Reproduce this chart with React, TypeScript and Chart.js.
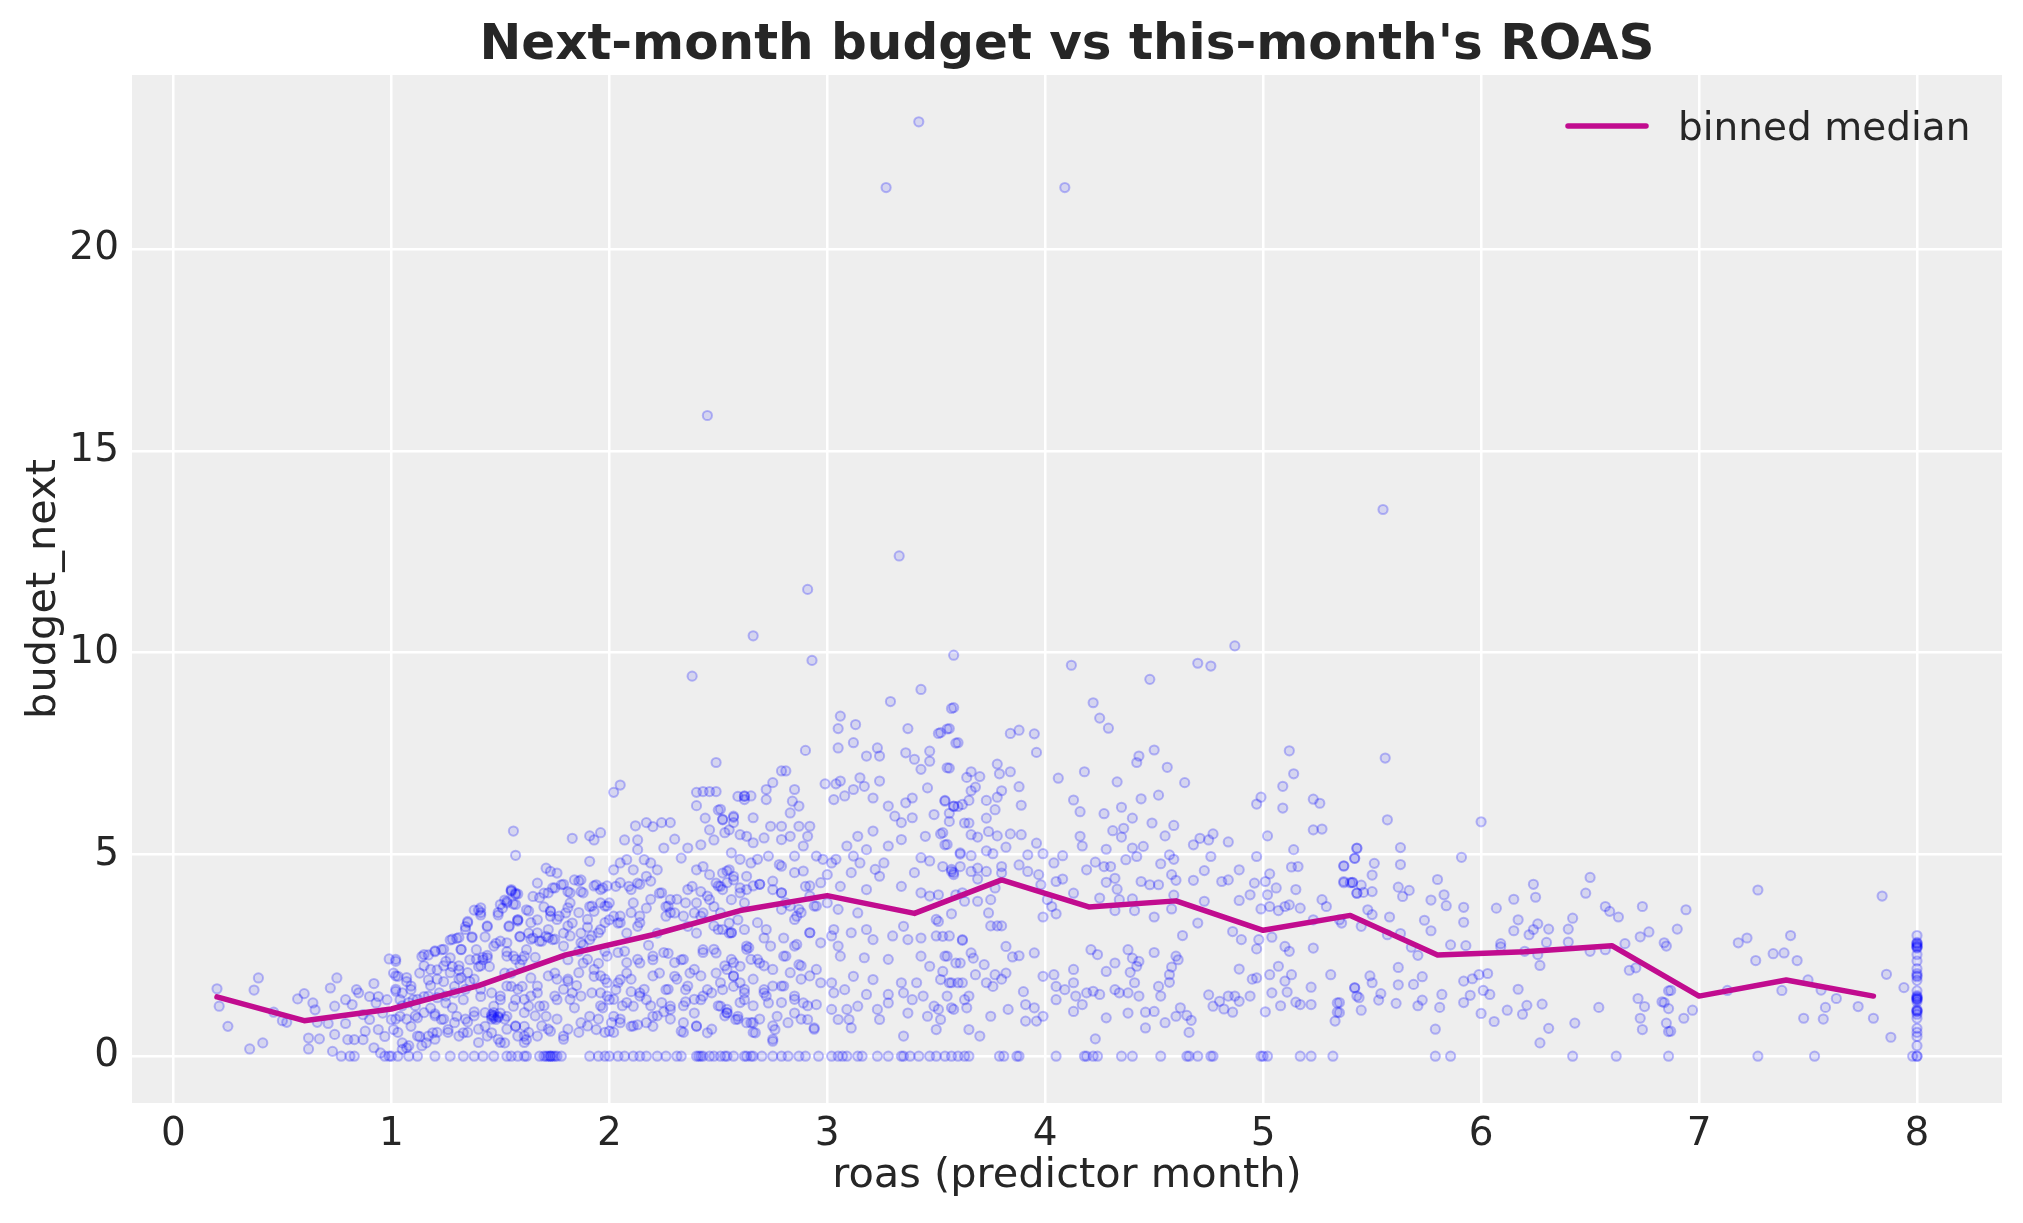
import { useEffect, useRef } from "react";
import { Chart, registerables } from "chart.js";
Chart.register(...registerables);

const FONT = "'DejaVu Sans', sans-serif";
const INK = "#262626";
const MEDIAN_COLOR = "#c10c8f";

const xTicks = [0, 1, 2, 3, 4, 5, 6, 7, 8];
const yTicks = [0, 5, 10, 15, 20];

// binned median of budget_next per roas bin
const binCenters = [0.2, 0.6, 1.0, 1.4, 1.8, 2.2, 2.6, 3.0, 3.4, 3.8, 4.2, 4.6, 5.0, 5.4, 5.8, 6.2, 6.6, 7.0, 7.4, 7.8];
const binMedians = [1.47, 0.88, 1.17, 1.75, 2.51, 3.01, 3.61, 3.98, 3.54, 4.37, 3.7, 3.85, 3.12, 3.49, 2.51, 2.59, 2.74, 1.49, 1.89, 1.49];

// [roas, budget_next], by roas band
const pointsBelow1: [number, number][] = [
  [0.2, 1.67], [0.21, 1.24], [0.25, 0.74], [0.37, 1.64], [0.39, 1.94], [0.35, 0.18], [0.41, 0.33], [0.46, 1.09],
  [0.5, 0.88], [0.52, 0.84], [0.57, 1.42], [0.6, 1.55], [0.62, 0.45], [0.62, 0.18], [0.64, 1.32], [0.65, 1.15],
  [0.66, 0.84], [0.67, 0.43], [0.71, 0.81], [0.72, 1.69], [0.75, 1.94], [0.73, 0.12], [0.74, 1.24], [0.74, 0.54],
  [0.79, 1.4], [0.79, 0.81], [0.8, 0.41], [0.82, 1.28], [0.83, 0.41], [0.84, 1.65], [0.85, 1.57], [0.87, 1.03],
  [0.87, 0.41], [0.88, 0.62], [0.9, 1.48], [0.9, 0.91], [0.92, 1.8], [0.92, 0.21], [0.93, 1.32], [0.94, 0.66],
  [0.94, 1.48], [0.95, 0.08], [0.96, 1.07], [0.97, 0.49], [0.98, 1.4], [0.99, 2.41], [1.0, 0.91],
];

const points1to16: [number, number][] = [
  [1.02, 2.35], [1.01, 2.06], [1.03, 1.98], [1.02, 1.61], [1.01, 0.66], [1.04, 1.4], [1.04, 0.99], [1.05, 0.33],
  [1.07, 1.85], [1.07, 0.21], [1.09, 1.65], [1.09, 0.74], [1.1, 1.4], [1.12, 0.95], [1.13, 2.06], [1.13, 0.49],
  [1.14, 2.47], [1.15, 1.48], [1.16, 0.33], [1.17, 2.51], [1.17, 1.89], [1.18, 1.19], [1.19, 0.58], [1.2, 2.59],
  [1.21, 2.14], [1.22, 1.57], [1.23, 0.91], [1.23, 2.64], [1.24, 1.85], [1.25, 1.32], [1.26, 0.66], [1.27, 2.88],
  [1.28, 2.22], [1.29, 1.73], [1.3, 2.92], [1.3, 0.99], [1.31, 2.14], [1.32, 2.64], [1.33, 1.4], [1.33, 0.58],
  [1.34, 3.21], [1.35, 3.34], [1.36, 2.39], [1.36, 1.85], [1.37, 2.96], [1.38, 3.62], [1.39, 2.64], [1.4, 2.22],
  [1.4, 3.62], [1.41, 3.5], [1.41, 1.48], [1.42, 2.39], [1.43, 0.74], [1.43, 2.96], [1.44, 3.21], [1.45, 2.22],
  [1.46, 0.99], [1.46, 0.58], [1.47, 1.24], [1.48, 2.8], [1.49, 3.5], [1.5, 1.07], [1.5, 1.4], [1.51, 3.67],
  [1.52, 3.87], [1.53, 2.59], [1.54, 3.21], [1.55, 2.06], [1.56, 1.24], [1.56, 5.58], [1.57, 4.98], [1.55, 4.1],
  [1.58, 4.02], [1.56, 3.77], [1.58, 3.38], [1.59, 2.96], [1.6, 2.39], [1.6, 1.73], [1.61, 0.74], [1.62, 0.41],
  [1.63, 3.05], [1.63, 1.24], [1.47, 0.95], [1.48, 0.91], [1.46, 1.03], [1.49, 0.99], [1.42, 2.45], [1.44, 2.5],
  [1.38, 1.1], [1.35, 0.85], [1.28, 1.2], [1.2, 1.05], [1.18, 1.75], [1.11, 1.25], [1.25, 2.35], [1.32, 1.95],
];

// the crowded core between roas 1 and 2
const dense1to2: [number, number][] = [
  [1.02, 2.4], [1.02, 1.99], [1.02, 1.66], [1.07, 1.95], [1.09, 1.74], [1.05, 1.57], [1.15, 2.52], [1.2, 2.61],
  [1.24, 2.65], [1.28, 2.9], [1.31, 2.94], [1.32, 2.65], [1.27, 2.44], [1.31, 2.24], [1.35, 3.31], [1.34, 3.14],
  [1.37, 2.94], [1.41, 3.68], [1.41, 3.56], [1.44, 3.23], [1.49, 3.56], [1.5, 3.76], [1.53, 3.84], [1.55, 4.09],
  [1.57, 4.01], [1.57, 3.76], [1.58, 3.35], [1.54, 3.23], [1.63, 3.6], [1.64, 3.31], [1.67, 3.06], [1.68, 3.93],
  [1.72, 4.05], [1.75, 4.17], [1.79, 4.26], [1.86, 4.34], [1.88, 4.05], [1.92, 3.72], [1.93, 4.22], [1.96, 4.13],
  [1.99, 3.72], [1.73, 3.6], [1.76, 3.39], [1.81, 3.68], [1.86, 3.56], [1.15, 2.24], [1.18, 2.15], [1.21, 1.91],
  [1.24, 2.24], [1.27, 2.07], [1.31, 1.91], [1.35, 2.07], [1.39, 2.4], [1.41, 2.24], [1.44, 2.44], [1.47, 2.73],
  [1.5, 2.85], [1.53, 2.48], [1.57, 2.4], [1.61, 2.48], [1.64, 2.9], [1.69, 2.85], [1.72, 2.94], [1.75, 2.9],
  [1.79, 2.73], [1.82, 2.98], [1.87, 2.81], [1.92, 2.98], [1.95, 3.06], [1.98, 3.31], [1.9, 2.4], [1.93, 2.15],
  [1.96, 1.99], [1.99, 1.82], [1.86, 2.07], [1.81, 1.91], [1.76, 1.91], [1.72, 1.99], [1.67, 1.74], [1.64, 1.49],
  [1.61, 1.41], [1.58, 1.66], [1.53, 1.74], [1.5, 1.49], [1.46, 1.57], [1.41, 1.66], [1.38, 1.91], [1.34, 1.66],
  [1.29, 1.57], [1.25, 1.49], [1.21, 1.45], [1.17, 1.49], [1.12, 1.41], [1.08, 1.33], [1.05, 1.25], [1.02, 0.92],
  [1.07, 0.92], [1.11, 1.0], [1.15, 1.08], [1.2, 1.0], [1.24, 0.92], [1.29, 0.83], [1.34, 0.92], [1.38, 1.0],
  [1.43, 1.08], [1.47, 1.0], [1.52, 0.92], [1.57, 0.75], [1.61, 1.08], [1.66, 1.0], [1.7, 1.25], [1.75, 1.49],
  [1.79, 1.66], [1.82, 1.41], [1.87, 1.49], [1.92, 1.57], [1.96, 1.25], [1.99, 1.49], [1.95, 0.92], [1.9, 0.75],
  [1.86, 0.59], [1.81, 0.67], [1.76, 0.92], [1.72, 0.67], [1.67, 0.5], [1.63, 0.59], [1.58, 0.5], [1.53, 0.67],
  [1.49, 0.42], [1.44, 0.5], [1.4, 0.67], [1.35, 0.59], [1.31, 0.5], [1.26, 0.59], [1.21, 0.59], [1.17, 0.5],
  [1.12, 0.5], [1.08, 0.26], [1.03, 0.59], [1.05, 0.17], [1.14, 0.26], [1.2, 0.42], [1.4, 0.34], [1.46, 0.92],
  [1.47, 1.08], [1.49, 0.96], [1.5, 0.34], [1.61, 0.34], [1.69, 0.75], [1.79, 0.42], [1.98, 0.59], [1.73, 3.47],
  [1.81, 3.23], [1.9, 3.39], [1.82, 4.05], [1.72, 3.14],
];

const points16to26: [number, number][] = [
  [1.83, 5.4], [1.91, 5.46], [1.93, 5.36], [1.96, 5.54], [1.91, 4.83], [2.02, 6.54], [2.05, 6.72], [2.07, 5.36],
  [2.12, 5.71], [2.17, 5.79], [2.2, 5.69], [2.24, 5.79], [2.28, 5.79], [2.13, 5.36], [2.13, 5.12], [2.3, 5.38],
  [2.25, 5.16], [2.33, 4.91], [2.36, 5.16], [2.4, 6.54], [2.43, 6.56], [2.46, 6.56], [2.49, 6.56], [2.49, 7.28],
  [2.4, 6.21], [2.5, 6.1], [2.44, 5.9], [2.46, 5.61], [2.52, 5.86], [2.57, 5.92], [2.59, 6.44], [2.62, 6.44],
  [2.55, 5.61], [2.48, 5.36], [2.6, 5.49], [2.42, 5.24],
  [1.71, 4.66], [1.73, 4.58], [1.76, 4.54], [1.67, 4.29], [1.7, 4.04], [1.74, 4.17], [1.78, 4.25], [1.81, 4.08],
  [1.84, 4.37], [1.87, 4.37], [1.87, 4.08], [1.94, 4.25], [1.97, 4.17], [1.65, 3.96], [1.53, 3.8], [1.57, 4.04],
  [1.55, 4.13], [1.62, 3.63], [1.67, 3.38], [1.73, 3.59], [1.77, 3.47], [1.82, 3.8], [1.83, 3.3], [1.87, 3.05],
  [1.91, 3.71], [1.93, 3.59], [1.96, 3.8], [2.0, 3.8], [1.58, 3.38], [1.59, 2.97], [1.65, 2.93], [1.68, 2.85],
  [1.71, 2.97], [1.74, 2.89], [1.79, 3.05], [1.53, 2.81], [1.56, 2.48], [1.62, 2.64], [1.88, 2.76], [1.91, 2.89],
  [1.96, 3.14], [2.0, 3.38], [2.02, 4.62], [2.05, 4.79], [2.08, 4.87], [2.03, 4.21], [2.09, 4.21], [2.13, 4.29],
  [2.17, 4.46], [2.19, 4.79], [2.22, 4.62], [2.11, 4.62], [2.16, 4.87], [2.23, 4.04], [2.26, 3.71], [2.28, 3.88],
  [2.11, 3.8], [2.14, 3.47], [2.05, 3.47], [2.04, 3.3], [2.08, 3.05], [2.13, 3.22], [2.17, 3.67], [2.22, 3.05],
  [2.26, 3.47], [2.3, 3.55], [2.35, 3.8], [2.38, 4.21], [2.4, 4.62], [2.43, 4.7], [2.46, 4.5], [2.49, 4.29],
  [2.51, 4.21], [2.52, 4.54], [2.55, 4.62], [2.57, 4.37], [2.6, 4.17], [2.63, 4.46], [2.42, 4.08], [2.46, 3.88],
  [2.48, 3.71], [2.39, 3.55], [2.43, 3.55], [2.51, 3.55], [2.55, 3.3], [2.59, 3.38], [2.4, 3.05], [2.36, 3.22],
  [2.5, 3.14], [2.55, 3.05], [2.43, 2.64], [2.49, 2.56],
  [1.52, 2.06], [1.55, 1.73], [1.57, 1.4], [1.53, 0.99], [1.57, 0.74], [1.61, 0.5], [1.52, 0.33], [1.59, 2.27],
  [1.64, 1.94], [1.67, 1.57], [1.68, 1.24], [1.71, 0.99], [1.73, 0.62], [1.79, 0.5], [1.75, 2.06], [1.81, 1.86],
  [1.83, 1.57], [1.84, 1.2], [1.87, 0.83], [1.91, 0.99], [1.94, 0.66], [1.96, 1.57], [1.93, 1.98], [1.88, 2.31],
  [1.81, 2.39], [1.97, 1.2], [2.0, 1.4], [2.03, 1.65], [2.05, 1.9], [2.02, 0.99], [2.0, 0.62], [2.05, 0.83],
  [2.1, 0.74], [2.13, 0.78], [2.11, 1.24], [2.14, 1.57], [2.17, 1.4], [2.2, 0.99], [2.2, 0.74], [2.08, 2.06],
  [2.14, 2.31], [2.2, 2.39], [2.23, 2.06], [2.26, 1.65], [2.28, 1.24], [2.3, 1.98], [2.33, 2.39], [2.35, 1.65],
  [2.37, 2.06], [2.33, 0.62], [2.39, 1.07], [2.4, 0.74], [2.42, 1.4], [2.45, 1.65], [2.45, 0.58], [2.49, 2.06],
  [2.51, 1.24], [2.54, 1.07], [2.57, 1.73], [2.59, 0.99], [2.6, 2.23], [2.62, 1.57], [2.63, 0.83],
  [1.7, 3.7], [1.8, 3.55], [1.9, 3.2], [1.98, 2.6], [2.07, 2.6], [2.18, 2.75], [2.27, 2.55], [1.76, 1.4],
  [1.85, 1.75], [1.95, 2.3], [2.1, 1.6], [2.25, 1.1], [2.35, 1.35], [1.66, 2.45], [1.86, 2.6], [2.06, 1.25],
];

// the crowded core between roas 2 and 3
const dense2to3: [number, number][] = [
  [1.99, 4.22], [2.05, 4.3], [2.1, 4.13], [2.14, 4.26], [2.19, 4.34], [2.24, 4.05], [2.27, 3.72], [2.28, 3.56],
  [2.31, 3.89], [2.36, 4.13], [2.4, 3.8], [2.45, 3.97], [2.5, 4.22], [2.54, 4.3], [2.6, 4.05], [2.66, 4.22],
  [2.69, 4.26], [2.75, 4.13], [2.79, 4.05], [2.83, 3.72], [2.88, 3.56], [2.92, 4.22], [2.95, 3.72], [1.98, 3.72],
  [2.02, 3.47], [2.05, 3.31], [2.1, 3.56], [2.14, 3.31], [2.19, 3.89], [2.34, 3.47], [2.42, 3.47], [2.48, 3.23],
  [2.56, 3.06], [2.62, 3.14], [2.68, 3.31], [2.72, 3.14], [2.79, 3.64], [2.85, 3.39], [2.92, 3.06], [1.99, 2.48],
  [2.04, 2.57], [2.08, 2.32], [2.13, 2.4], [2.2, 2.48], [2.25, 2.57], [2.3, 2.32], [2.34, 2.4], [2.39, 2.15],
  [2.43, 2.57], [2.48, 2.65], [2.53, 2.24], [2.57, 2.32], [2.63, 2.65], [2.68, 2.4], [2.71, 2.24], [2.75, 2.15],
  [2.8, 2.48], [2.85, 2.73], [2.88, 2.24], [2.92, 1.99], [1.98, 1.91], [2.04, 1.82], [2.1, 1.91], [2.16, 1.66],
  [2.2, 1.99], [2.27, 1.66], [2.31, 1.91], [2.36, 1.74], [2.42, 1.99], [2.47, 1.57], [2.51, 1.82], [2.57, 1.99],
  [2.62, 1.66], [2.66, 1.91], [2.71, 1.57], [2.75, 1.74], [2.8, 1.74], [2.88, 1.91], [2.02, 1.41], [2.08, 1.33],
  [2.14, 1.49], [2.19, 1.25], [2.24, 1.33], [2.28, 1.16], [2.34, 1.25], [2.39, 1.41], [2.43, 1.49], [2.5, 1.25],
  [2.54, 1.08], [2.6, 1.33], [2.66, 1.25], [2.72, 1.49], [2.79, 1.33], [2.85, 1.41], [2.91, 1.25], [2.01, 0.83],
  [2.05, 0.92], [2.11, 0.75], [2.17, 0.83], [2.22, 1.0], [2.28, 0.92], [2.34, 0.83], [2.4, 0.75], [2.47, 0.67],
  [2.53, 1.0], [2.59, 0.92], [2.65, 0.83], [2.69, 0.92], [2.75, 0.75], [2.82, 0.83], [2.88, 0.92], [2.94, 0.67],
  [2.75, 0.42], [2.66, 0.59], [2.02, 0.59], [2.34, 0.59],
];

const points25to36: [number, number][] = [
  [2.9, 7.58], [2.79, 7.07], [2.81, 7.07], [2.75, 6.78], [2.72, 6.61], [2.72, 6.36], [2.62, 6.45], [2.65, 6.45],
  [2.62, 6.36], [2.85, 6.61], [2.84, 6.32], [2.87, 6.2], [2.83, 6.03], [2.99, 6.75], [3.04, 6.75], [3.06, 6.82],
  [3.05, 7.64], [3.05, 8.12], [3.06, 8.43], [3.13, 8.22], [3.12, 7.77], [3.18, 7.44], [3.23, 7.64], [3.24, 7.44],
  [3.15, 6.9], [3.17, 6.69], [3.21, 6.4], [3.24, 6.82], [3.29, 8.79], [3.37, 8.12], [3.36, 7.52], [3.4, 7.36],
  [3.43, 7.11], [3.43, 9.09], [3.47, 7.56], [3.47, 7.31], [3.46, 6.65], [3.52, 8.02], [3.56, 8.12], [3.58, 8.64],
  [3.6, 7.77], [3.55, 7.15], [3.54, 6.32], [3.58, 6.2], [3.62, 6.24], [3.08, 6.45], [3.03, 6.36], [3.12, 6.61],
  [2.51, 6.12], [2.52, 5.87], [2.57, 5.95], [2.53, 5.54], [2.57, 5.79], [2.63, 5.45], [2.66, 5.91], [2.66, 5.29],
  [2.74, 5.7], [2.71, 5.41], [2.79, 5.7], [2.79, 5.37], [2.83, 5.45], [2.87, 5.7], [2.91, 5.45], [2.92, 5.7],
  [2.89, 5.21], [2.56, 5.04], [2.6, 4.88], [2.65, 4.79], [2.68, 4.88], [2.73, 4.96], [2.78, 4.75], [2.85, 4.96],
  [2.95, 4.96], [2.98, 4.88], [3.02, 4.79], [3.04, 4.88], [2.54, 4.59], [2.57, 4.46], [2.52, 4.13], [2.56, 3.88],
  [2.63, 4.13], [2.62, 3.8], [2.69, 4.26], [2.75, 4.34], [2.79, 4.71], [2.79, 4.05], [2.81, 3.8], [2.85, 4.55],
  [2.89, 4.59], [2.9, 4.21], [2.92, 3.97], [2.94, 3.72], [2.86, 3.47], [2.87, 3.64], [2.97, 4.3], [3.0, 4.5],
  [3.0, 3.8], [3.05, 3.64], [3.06, 4.21], [3.09, 5.21], [3.12, 4.96], [3.14, 5.45], [3.11, 4.55], [3.15, 4.79],
  [3.18, 5.12], [3.18, 4.13], [3.14, 3.55], [3.21, 5.58], [3.22, 4.63], [3.24, 4.46], [3.26, 4.79], [3.28, 6.2],
  [3.28, 5.21], [3.31, 5.95], [3.34, 5.79], [3.34, 4.21], [3.34, 5.37], [3.36, 6.28], [3.39, 5.91], [3.4, 4.55],
  [3.39, 6.4], [3.43, 4.92], [3.43, 4.05], [3.47, 4.84], [3.47, 3.97], [3.49, 5.99], [3.53, 5.54], [3.55, 5.25],
  [3.57, 4.63], [3.58, 4.55], [3.61, 5.04], [3.62, 4.05], [3.5, 3.39], [3.45, 5.45],
  [2.52, 3.14], [2.56, 3.06], [2.63, 2.73], [2.64, 2.69], [2.71, 2.93], [2.74, 2.73], [2.8, 2.93], [2.86, 2.77],
  [2.92, 3.06], [2.97, 2.81], [3.02, 2.98], [3.05, 2.73], [3.03, 3.14], [3.11, 3.06], [3.18, 3.14], [3.21, 2.89],
  [3.3, 2.98], [3.35, 3.22], [3.37, 2.89], [3.43, 2.93], [3.5, 2.98], [3.56, 2.98], [3.62, 2.89], [2.56, 2.4],
  [2.54, 2.15], [2.57, 1.98], [2.52, 1.65], [2.54, 1.16], [2.58, 0.91], [2.6, 1.82], [2.62, 1.4], [2.66, 0.83],
  [2.67, 0.58], [2.65, 2.4], [2.69, 2.31], [2.71, 1.65], [2.73, 1.32], [2.76, 0.66], [2.75, 0.37], [2.77, 0.99],
  [2.79, 1.74], [2.81, 2.48], [2.83, 2.07], [2.85, 1.49], [2.85, 1.07], [2.87, 2.27], [2.89, 1.32], [2.91, 0.91],
  [2.94, 0.7], [2.95, 1.28], [2.95, 2.15], [2.97, 1.82], [3.02, 1.82], [3.03, 1.57], [3.02, 1.16], [3.05, 0.91],
  [3.06, 2.48], [3.08, 1.65], [3.09, 1.16], [3.1, 0.91], [3.11, 0.7], [3.12, 1.98], [3.14, 1.24], [3.17, 2.44],
  [3.18, 1.53], [3.21, 1.9], [3.23, 1.16], [3.24, 0.91], [3.28, 2.4], [3.28, 1.53], [3.28, 1.32], [3.34, 1.82],
  [3.35, 1.57], [3.35, 0.5], [3.37, 1.07], [3.39, 1.4], [3.41, 1.82], [3.43, 2.48], [3.44, 1.49], [3.46, 0.99],
  [3.47, 2.23], [3.49, 1.24], [3.5, 0.66], [3.52, 1.9], [3.55, 2.48], [3.57, 1.82], [3.58, 1.16], [3.61, 2.31],
  [3.62, 1.82], [3.63, 1.4],
];

const points35to54: [number, number][] = [
  [3.58, 9.94], [3.57, 8.62], [3.55, 8.11], [3.51, 8.0], [3.59, 7.76], [3.56, 7.14], [4.12, 9.69], [4.22, 8.76],
  [4.25, 8.38], [4.29, 8.13], [4.48, 9.34], [4.7, 9.74], [4.76, 9.67], [4.87, 10.17], [3.84, 8.0], [3.88, 8.08],
  [3.95, 7.99], [3.96, 7.53], [3.78, 7.24], [3.66, 7.05], [3.7, 6.93], [3.64, 6.91], [3.79, 7.0], [3.84, 7.05],
  [3.88, 6.68], [3.68, 6.67], [3.66, 6.58], [3.8, 6.58], [3.78, 6.42], [3.73, 6.34], [3.54, 6.34], [3.58, 6.19],
  [3.6, 6.19], [3.65, 6.34], [3.89, 6.22], [3.77, 6.11], [3.56, 6.02], [4.06, 6.89], [4.18, 7.05], [4.13, 6.35],
  [4.16, 6.06], [4.33, 6.8], [4.42, 7.28], [4.43, 7.44], [4.5, 7.59], [4.56, 7.16], [4.64, 6.78], [4.52, 6.47],
  [4.44, 6.38], [4.35, 6.17], [4.27, 6.01], [4.4, 5.9], [5.12, 7.57], [5.14, 7.0], [5.09, 6.69], [4.99, 6.42],
  [4.97, 6.25], [5.09, 6.15], [5.23, 6.37], [5.26, 6.27], [5.23, 5.61], [5.27, 5.63], [5.02, 5.46],
  [3.73, 5.9], [3.65, 5.78], [3.63, 5.78], [3.56, 5.82], [3.52, 5.51], [3.54, 5.24], [3.66, 5.49], [3.69, 5.43],
  [3.74, 5.57], [3.78, 5.46], [3.84, 5.51], [3.89, 5.49], [3.73, 5.09], [3.76, 5.02], [3.82, 5.18], [3.96, 5.28],
  [3.92, 4.99], [3.99, 5.02], [3.61, 5.01], [3.61, 4.7], [3.66, 4.97], [3.66, 4.58], [3.57, 4.58], [3.53, 4.7],
  [3.58, 4.5], [3.69, 4.66], [3.8, 4.7], [3.8, 4.54], [3.73, 4.58], [3.88, 4.74], [3.92, 4.58], [3.97, 4.5],
  [3.98, 4.25], [3.69, 4.39], [3.77, 4.17], [3.51, 4.0], [3.59, 4.0], [3.63, 3.84], [3.69, 3.84], [3.75, 3.88],
  [3.74, 3.55], [3.57, 3.53], [3.51, 3.34], [3.75, 3.23], [3.78, 3.23], [3.8, 3.23], [3.53, 2.97], [4.04, 4.79],
  [4.08, 4.97], [4.05, 4.33], [4.08, 4.39], [4.01, 3.88], [4.03, 3.71], [4.05, 3.53], [3.99, 3.45], [4.13, 4.04],
  [4.16, 5.45], [4.17, 5.21], [4.19, 4.62], [4.23, 4.81], [4.27, 4.7], [4.3, 4.7], [4.28, 4.31], [4.32, 4.41],
  [4.33, 4.14], [4.25, 3.92], [4.34, 3.88], [4.32, 3.61], [4.28, 5.13], [4.31, 5.59], [4.35, 5.43], [4.36, 5.65],
  [4.37, 4.87], [4.4, 5.16], [4.45, 5.2], [4.42, 4.95], [4.44, 4.33], [4.48, 4.25], [4.52, 4.25], [4.4, 3.9],
  [4.41, 3.61], [4.5, 3.45], [4.49, 5.78], [4.53, 4.77], [4.55, 5.46], [4.57, 4.99], [4.59, 5.72], [4.59, 4.88],
  [4.58, 4.5], [4.6, 4.36], [4.59, 3.99], [4.58, 3.65], [4.68, 5.24], [4.71, 5.4], [4.75, 5.36], [4.77, 5.51],
  [4.76, 4.95], [4.73, 4.6], [4.68, 4.36], [4.73, 3.84], [4.81, 4.33], [4.84, 4.37], [4.84, 5.31], [4.89, 4.62],
  [4.89, 3.86], [4.94, 4.0], [4.97, 4.95], [4.96, 4.29], [5.01, 4.33], [5.03, 4.52], [5.06, 4.17], [5.02, 4.0],
  [4.99, 3.65], [5.03, 3.71], [5.07, 3.61], [5.1, 3.71], [5.12, 3.75], [5.17, 3.67], [5.14, 5.12], [5.13, 4.69],
  [5.16, 4.7], [5.15, 4.13], [5.27, 3.88], [5.29, 3.71], [5.37, 4.72], [5.37, 4.33], [5.41, 4.31], [5.42, 4.91],
  [5.43, 5.16], [5.43, 4.04],
  [3.54, 2.48], [3.53, 2.1], [3.56, 1.82], [3.51, 1.16], [3.52, 0.91], [3.55, 1.49], [3.59, 2.31], [3.57, 1.2],
  [3.6, 1.82], [3.62, 2.87], [3.65, 1.49], [3.64, 1.2], [3.65, 0.66], [3.66, 2.56], [3.67, 2.43], [3.68, 2.02],
  [3.7, 0.5], [3.72, 2.27], [3.73, 1.82], [3.75, 0.99], [3.76, 1.73], [3.77, 2.02], [3.8, 1.91], [3.82, 2.72],
  [3.82, 2.06], [3.83, 1.16], [3.85, 2.46], [3.88, 2.49], [3.9, 1.6], [3.91, 1.28], [3.91, 0.87], [3.95, 2.56],
  [3.95, 1.2], [3.96, 0.87], [3.99, 1.98], [3.99, 0.99], [4.04, 2.02], [4.05, 1.73], [4.05, 1.4], [4.09, 1.65],
  [4.13, 1.82], [4.13, 1.11], [4.13, 2.15], [4.14, 1.49], [4.17, 1.28], [4.19, 1.57], [4.21, 2.64], [4.23, 0.43],
  [4.24, 2.52], [4.22, 1.61], [4.25, 1.53], [4.28, 0.95], [4.28, 2.1], [4.32, 2.31], [4.32, 1.65], [4.34, 1.57],
  [4.38, 2.64], [4.38, 1.57], [4.38, 1.07], [4.4, 2.43], [4.39, 2.08], [4.42, 2.23], [4.43, 2.35], [4.41, 1.82],
  [4.43, 1.49], [4.46, 0.7], [4.46, 1.09], [4.5, 2.57], [4.5, 1.11], [4.52, 1.73], [4.53, 1.49], [4.55, 0.83],
  [4.57, 1.83], [4.58, 2.21], [4.57, 2.02], [4.6, 0.99], [4.6, 2.48], [4.61, 2.39], [4.62, 1.2], [4.63, 2.99],
  [4.66, 0.59], [4.65, 1.01], [4.67, 0.89], [4.7, 3.3], [4.75, 1.52], [4.77, 1.24], [4.8, 1.36], [4.82, 1.17],
  [4.84, 1.49], [4.86, 1.09], [4.87, 1.49], [4.89, 1.36], [4.86, 3.09], [4.9, 2.89], [4.89, 2.16], [4.94, 1.49],
  [4.95, 1.91], [4.97, 1.94], [4.98, 2.89], [4.97, 2.66], [5.04, 2.95], [5.03, 2.02], [5.04, 1.57], [5.01, 1.1],
  [5.07, 2.23], [5.08, 1.25], [5.1, 2.72], [5.12, 2.6], [5.1, 1.86], [5.11, 1.59], [5.13, 2.02], [5.15, 1.34],
  [5.17, 1.28], [5.22, 1.28], [5.22, 1.71], [5.23, 2.68], [5.23, 3.38], [5.31, 2.02], [5.33, 0.87], [5.34, 1.09],
  [5.34, 1.32], [5.36, 3.3], [5.42, 1.69], [5.43, 1.49],
];

const points54to70: [number, number][] = [
  [5.56, 7.39], [5.57, 5.86], [6.0, 5.81], [5.43, 5.15], [5.42, 4.9], [5.37, 4.71], [5.51, 4.78], [5.63, 5.17],
  [5.63, 4.75], [5.5, 4.49], [5.37, 4.3], [5.4, 4.3], [5.41, 4.3], [5.45, 4.24], [5.43, 4.04], [5.46, 4.06],
  [5.5, 4.08], [5.62, 4.19], [5.64, 3.96], [5.67, 4.11], [5.8, 4.38], [5.77, 3.87], [5.83, 4.0], [5.84, 3.73],
  [5.92, 3.69], [5.92, 3.32], [5.91, 4.93], [5.48, 3.63], [5.5, 3.51], [5.58, 3.45], [5.35, 3.38], [5.45, 3.22],
  [5.74, 3.37], [5.77, 3.11], [5.63, 3.04], [5.57, 3.01], [5.68, 2.7], [5.71, 2.5], [5.86, 2.76], [5.93, 2.74],
  [5.62, 2.2], [5.49, 1.99], [5.5, 1.82], [5.42, 1.7], [5.44, 1.45], [5.45, 1.14], [5.35, 1.33], [5.35, 1.08],
  [5.53, 1.39], [5.54, 1.55], [5.61, 1.31], [5.62, 1.77], [5.69, 1.78], [5.73, 1.97], [5.73, 1.39], [5.71, 1.25],
  [5.81, 1.21], [5.82, 1.53], [5.79, 0.67], [5.92, 1.86], [5.96, 1.92], [5.92, 1.33], [5.95, 1.51], [5.99, 2.02],
  [6.03, 2.05], [6.01, 1.63], [6.04, 1.53], [6.0, 1.06], [6.06, 0.86], [6.07, 3.67], [6.09, 2.79], [6.09, 2.71],
  [6.15, 3.89], [6.17, 3.38], [6.15, 3.11], [6.22, 3.01], [6.24, 3.14], [6.26, 3.28], [6.31, 3.15], [6.24, 4.26],
  [6.25, 3.94], [6.3, 2.82], [6.2, 2.6], [6.26, 2.52], [6.27, 2.25], [6.17, 1.66], [6.21, 1.26], [6.19, 1.04],
  [6.28, 1.29], [6.12, 1.14], [6.31, 0.69], [6.27, 0.33], [6.4, 3.15], [6.42, 3.42], [6.4, 2.83], [6.5, 2.6],
  [6.5, 4.43], [6.48, 4.04], [6.43, 0.82], [6.54, 1.21], [6.57, 3.71], [6.59, 3.59], [6.63, 3.45], [6.66, 2.79],
  [6.57, 2.64], [6.68, 2.13], [6.71, 2.19], [6.74, 3.71], [6.73, 2.96], [6.77, 3.08], [6.84, 2.81], [6.85, 2.73],
  [6.72, 1.43], [6.75, 1.23], [6.73, 0.94], [6.74, 0.66], [6.84, 1.33], [6.86, 1.18], [6.85, 0.82], [6.86, 0.61],
  [6.86, 1.62], [6.9, 3.15], [6.94, 3.63], [6.87, 1.63], [6.83, 1.35], [6.93, 0.94], [6.97, 1.14], [6.87, 0.62],
];

const points70to80: [number, number][] = [
  [7.13, 1.63], [7.18, 2.81], [7.22, 2.93], [7.27, 4.12], [7.26, 2.37], [7.34, 2.54], [7.39, 2.56], [7.42, 2.99],
  [7.45, 2.37], [7.38, 1.63], [7.5, 1.89], [7.56, 1.64], [7.58, 1.21], [7.63, 1.43], [7.48, 0.94], [7.57, 0.92],
  [7.73, 1.23], [7.8, 0.94], [7.84, 3.97], [7.86, 2.03], [7.88, 0.47], [7.94, 1.7],
];

const outlierPoints: [number, number][] = [
  [3.42, 23.16], [3.27, 21.53], [4.09, 21.53], [2.45, 15.88], [5.55, 13.55], [3.33, 12.4], [2.91, 11.57],
  [2.66, 10.42], [2.93, 9.81], [2.38, 9.42],
];

// roas of rows whose next-month budget is 0
const zeroBudgetRoas = [
  0.77, 0.81, 0.83, 0.97, 0.99, 1.03, 1.08, 1.2, 1.27, 1.33, 1.42, 1.53, 1.55, 1.58, 1.61, 1.62, 1.68, 1.7, 1.72,
  1.73, 1.73, 1.74, 1.75, 1.78, 1.91, 1.95, 1.98, 2.04, 2.07, 2.14, 2.17, 2.22, 2.26, 2.33, 2.4, 2.41, 2.42, 2.46,
  2.51, 2.53, 2.54, 2.57, 2.62, 2.63, 2.65, 2.66, 2.7, 2.75, 2.79, 2.82, 2.9, 3.02, 3.05, 3.07, 3.09, 3.14, 3.16,
  3.23, 3.28, 3.34, 3.35, 3.38, 3.42, 3.47, 3.5, 3.54, 3.57, 3.6, 3.63, 3.65, 3.79, 3.81, 3.87, 3.88, 4.05, 4.18,
  4.19, 4.22, 4.24, 4.35, 4.4, 4.53, 4.65, 4.66, 4.7, 4.76, 4.77, 4.99, 5.0, 5.02, 5.17, 5.22, 5.32, 5.79, 5.86,
  6.42, 6.62, 6.86, 7.27, 7.53, 7.98, 1.0, 1.12, 1.38, 1.47, 1.71, 1.76, 2.0, 2.11, 2.31, 2.43, 2.48, 2.87, 2.96,
];

// budget_next of rows whose roas is capped at 8
const cappedRoasBudgets = [
  2.99, 2.82, 2.78, 2.74, 2.72, 2.68, 2.52, 2.36, 2.17, 2.05, 2.0, 1.97, 1.88, 1.62, 1.47, 1.45, 1.41, 1.4, 1.35,
  1.16, 1.12, 1.1, 1.04, 0.94, 0.69, 0.59, 0.49, 0.26, 0, 0, 2.8, 2.7, 1.5, 1.43, 1.13,
];

const scatterData = [
  ...pointsBelow1,
  ...points1to16,
  ...dense1to2,
  ...points16to26,
  ...dense2to3,
  ...points25to36,
  ...points35to54,
  ...points54to70,
  ...points70to80,
  ...outlierPoints,
  ...zeroBudgetRoas.map((r) => [r, 0] as [number, number]),
  ...cappedRoasBudgets.map((b) => [8, b] as [number, number]),
].map(([x, y]) => ({ x, y }));

const medianData = binCenters.map((x, i) => ({ x, y: binMedians[i] }));

const decorPlugin = {
  id: "decor",
  beforeDraw(chart: Chart) {
    const { ctx, chartArea: a } = chart;
    ctx.save();
    ctx.fillStyle = "#eeeeee";
    ctx.fillRect(a.left, a.top, a.right - a.left, a.bottom - a.top);
    ctx.restore();
  },
  afterDraw(chart: Chart) {
    const { ctx, chartArea: a } = chart;
    ctx.save();
    ctx.fillStyle = INK;
    // title
    ctx.font = `bold 50px ${FONT}`;
    ctx.textAlign = "center";
    ctx.textBaseline = "alphabetic";
    ctx.fillText("Next-month budget vs this-month's ROAS", (a.left + a.right) / 2, 59);
    // axis titles
    ctx.font = `41.5px ${FONT}`;
    ctx.textBaseline = "middle";
    ctx.fillText("roas (predictor month)", (a.left + a.right) / 2, 1176);
    ctx.textBaseline = "alphabetic";
    ctx.translate(55, (a.top + a.bottom) / 2);
    ctx.rotate(-Math.PI / 2);
    ctx.fillText("budget_next", 0, 0);
    ctx.setTransform(1, 0, 0, 1, 0, 0);
    // legend
    ctx.strokeStyle = MEDIAN_COLOR;
    ctx.lineWidth = 5.5;
    ctx.lineCap = "round";
    ctx.beginPath();
    ctx.moveTo(1568, 126);
    ctx.lineTo(1646, 126);
    ctx.stroke();
    ctx.font = `39px ${FONT}`;
    ctx.textAlign = "left";
    ctx.fillText("binned median", 1678, 140);
    ctx.restore();
  },
};

export default function App() {
  const canvasRef = useRef<HTMLCanvasElement>(null);

  useEffect(() => {
    if (!canvasRef.current) return;
    const ctx = canvasRef.current.getContext("2d");
    if (!ctx) return;

    const tickFont = { family: FONT, size: 39 };

    const chart = new Chart(ctx, {
      type: "scatter",
      data: {
        datasets: [
          {
            type: "line",
            label: "binned median",
            data: medianData,
            borderColor: MEDIAN_COLOR,
            borderWidth: 5.5,
            borderCapStyle: "round",
            borderJoinStyle: "round",
            pointRadius: 0,
            tension: 0,
            order: 0,
          },
          {
            label: "rows",
            data: scatterData,
            pointRadius: 4.6,
            pointBorderWidth: 2,
            pointBackgroundColor: "rgba(0, 0, 255, 0.1)",
            pointBorderColor: "rgba(0, 0, 255, 0.25)",
            order: 1,
          },
        ],
      },
      options: {
        responsive: false,
        animation: false,
        events: [],
        layout: { padding: { top: 75, right: 21, left: 0, bottom: 0 } },
        plugins: { legend: { display: false }, title: { display: false }, tooltip: { enabled: false } },
        scales: {
          x: {
            type: "linear",
            min: -0.19,
            max: 8.39,
            afterBuildTicks: (s: any) => {
              s.ticks = xTicks.map((v) => ({ value: v }));
            },
            afterFit: (s: any) => {
              s.height = 120;
            },
            grid: { color: "#ffffff", lineWidth: 2.5, drawTicks: false },
            border: { display: false },
            ticks: { padding: 8, font: tickFont, color: INK, maxRotation: 0, autoSkip: false, callback: (v: any) => `${v}` },
          },
          y: {
            type: "linear",
            min: -1.16,
            max: 24.32,
            afterBuildTicks: (s: any) => {
              s.ticks = yTicks.map((v) => ({ value: v }));
            },
            afterFit: (s: any) => {
              s.width = 132;
            },
            grid: { color: "#ffffff", lineWidth: 2.5, drawTicks: false },
            border: { display: false },
            ticks: { padding: 13, font: tickFont, color: INK, autoSkip: false, callback: (v: any) => `${v}` },
          },
        },
      },
      plugins: [decorPlugin],
    });

    return () => chart.destroy();
  }, []);

  return (
    <div style={{ position: "fixed", left: 0, top: 0, width: 2023, height: 1223, background: "#ffffff" }}>
      <canvas ref={canvasRef} width={2023} height={1223} />
    </div>
  );
}
